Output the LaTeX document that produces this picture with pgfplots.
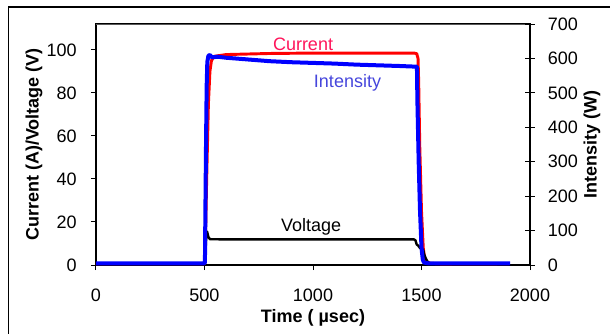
\documentclass[border=0pt]{standalone}
\usepackage{fontspec}
\setmainfont{Liberation Sans}
\usepackage{pgfplots}
\pgfplotsset{compat=1.18}
\definecolor{curtxt}{RGB}{255,20,90}
\definecolor{inttxt}{RGB}{70,70,220}
\begin{document}
\begin{tikzpicture}
\useasboundingbox (-72pt,-51pt) rectangle (385.5pt,198.75pt);
\draw[line width=1pt] (-65.6pt,-60pt) -- (-65.6pt,193.5pt) -- (400pt,193.5pt);
\begin{axis}[
  at={(0,0)}, anchor=south west,
  scale only axis, width=325.5pt, height=180.75pt,
  xmin=0, xmax=2000, ymin=0, ymax=112,
  xtick={0,500,...,2000}, ytick={0,20,...,100},
  xtick pos=bottom, ytick pos=left,
  tick align=outside, major tick length=3.75pt,
  tick style={black, line width=0.75pt},
  axis line style={black, line width=1pt},
  /pgf/number format/assume math mode=true,
  /pgf/number format/1000 sep={},
  scaled x ticks=false,
  tick label style={font=\fontsize{13.5}{16}\selectfont, inner sep=0pt},
  xticklabel style={anchor=center, yshift=-18.75pt},
  yticklabel style={anchor=east, xshift=-10.5pt},
  label style={font=\fontsize{13.5}{16}\selectfont\bfseries},
  xlabel={Time ( µsec)},
  ylabel={Current (A)/Voltage (V)},
  xlabel style={at={(axis description cs:0.5,-0.22)}, anchor=center},
  ylabel style={at={(axis description cs:-0.143,0.5)}, anchor=center},
]
\draw[color=black!65, line width=1pt] (rel axis cs:0,1) -- (rel axis cs:1,1);
\addplot[color=red, line width=2.2pt, line join=round] coordinates {
(0,0.5) (500,0.5) (503,5) (510,40) (518,75) (525,90) (532,95) (545,97) (600,97.8) (800,98.3) (1000,98.5) (1200,98.5) (1465,98.5) (1478,98.2) (1484,96) (1487,85) (1492,55) (1500,25) (1508,8) (1515,3) (1525,1.5) (1540,0.8) (1600,0.5) (1900,0.5)
};
\addplot[color=black, line width=1.8pt, line join=round] coordinates {
(0,0.3) (500,0.3) (504,5) (508,13) (512,15.5) (518,13) (525,12) (600,11.9) (1000,11.9) (1465,11.9) (1472,11.5) (1478,9.5) (1485,9) (1492,8) (1500,7.5) (1508,7) (1512,5) (1520,3) (1528,1.5) (1540,0.5) (1900,0.3)
};
\node[text=curtxt, font=\fontsize{13.5}{16}\selectfont] at (axis cs:954,102.7) {Current};
\node[text=inttxt, font=\fontsize{13.5}{16}\selectfont] at (axis cs:1159,84.7) {Intensity};
\node[text=black, font=\fontsize{13.5}{16}\selectfont] at (axis cs:991,17.6) {Voltage};
\end{axis}
\begin{axis}[
  at={(0,0)}, anchor=south west,
  scale only axis, width=325.5pt, height=180.75pt,
  xmin=0, xmax=2000, ymin=0, ymax=700,
  axis line style={draw=none},
  xtick=\empty, ytick={0,100,...,700},
  ytick pos=right, yticklabel pos=right,
  tick align=center, major tick length=7pt,
  tick style={black, line width=0.75pt},
  /pgf/number format/assume math mode=true,
  tick label style={font=\fontsize{13.5}{16}\selectfont, inner sep=0pt},
  yticklabel style={anchor=west, xshift=9.75pt},
  label style={font=\fontsize{13.5}{16}\selectfont\bfseries},
  ylabel={Intensity (W)},
  ylabel style={at={(axis description cs:1.143,0.5)}, anchor=center},
]
\addplot[color=blue, line width=3pt, line join=round] coordinates {
(0,5) (500,5) (502,8) (504,150) (507,350) (510,520) (513,590) (518,608) (525,610) (535,603) (560,605) (600,602) (700,597) (800,592) (900,589) (1000,587) (1100,585) (1200,582) (1300,580) (1400,578) (1479,576) (1481,480) (1487,300) (1493,160) (1500,50) (1506,15) (1512,7) (1530,5) (1908,5)
};
\end{axis}
\end{tikzpicture}
\end{document}
